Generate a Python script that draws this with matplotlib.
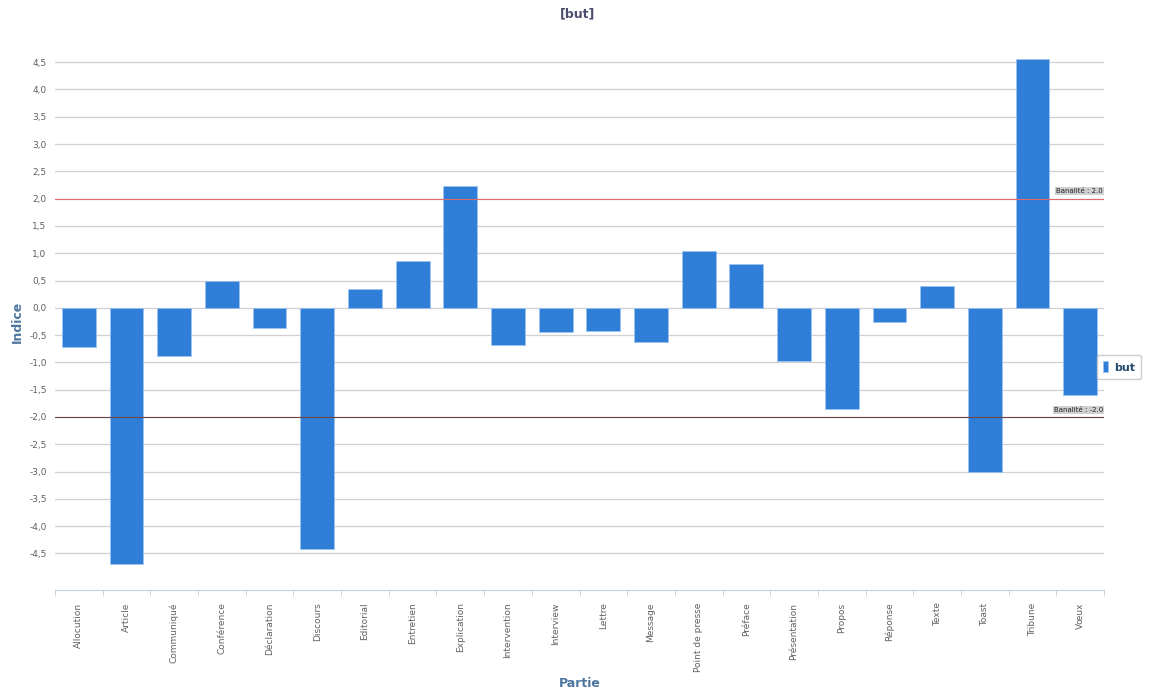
import matplotlib
matplotlib.use("Agg")
import matplotlib.pyplot as plt
from matplotlib.ticker import FixedLocator
import numpy as np

categories = ["Allocution", "Article", "Communiqué", "Conférence", "Déclaration",
              "Discours", "Editorial", "Entretien", "Explication", "Intervention",
              "Interview", "Lettre", "Message", "Point de presse", "Préface",
              "Présentation", "Propos", "Réponse", "Texte", "Toast", "Tribune", "Vœux"]
values = [-0.71, -4.69, -0.88, 0.49, -0.37, -4.41, 0.35, 0.86, 2.23, -0.68,
          -0.44, -0.42, -0.62, 1.04, 0.81, -0.97, -1.85, -0.26, 0.40, -3.00,
          4.56, -1.59]
yticks = [-4.5, -4.0, -3.5, -3.0, -2.5, -2.0, -1.5, -1.0, -0.5, 0.0,
          0.5, 1.0, 1.5, 2.0, 2.5, 3.0, 3.5, 4.0, 4.5]
thresholds = [2.0, -2.0]
threshold_labels = ["Banalité : 2.0", "Banalité : -2.0"]

plt.rcParams['font.family'] = ['DejaVu Sans']
fig = plt.figure(figsize=(11.55, 6.94), dpi=100)
ax = fig.add_axes([55/1155, 1 - 590/694, (1104-55)/1155, (590-54)/694])

x = np.arange(len(categories))
bars = ax.bar(x, values, width=0.71, color="#2F7ED8", edgecolor="#9ec3f0",
              linewidth=0.5, zorder=3, label="but")

ax.set_xlim(-0.5, len(categories) - 0.5)
ax.set_ylim(-5.17, 4.65)

ax.set_yticks(yticks)
ax.set_yticklabels([f"{v:.1f}".replace(".", ",") for v in yticks], fontsize=6.5, color="#606060")
ax.set_axisbelow(True)
ax.yaxis.grid(True, color="#d0d0d0", linewidth=0.9)
ax.tick_params(axis="y", length=0, pad=6)

ax.set_xticks(x)
ax.set_xticklabels(categories, rotation=90, fontsize=6.5, color="#606060", va="top")
ax.xaxis.set_minor_locator(FixedLocator(np.arange(-0.5, len(categories), 1.0)))
ax.tick_params(axis="x", which="major", length=0, pad=9)
ax.tick_params(axis="x", which="minor", length=4, color="#C0D0E0")

for s in ["top", "right", "left"]:
    ax.spines[s].set_visible(False)
ax.spines["bottom"].set_color("#C0D0E0")

thr_colors = ["#e06a6a", "#6e4646"]
for t, lab, c in zip(thresholds, threshold_labels, thr_colors):
    ax.axhline(t, color=c, linewidth=0.8, zorder=4)
    ax.text(len(categories) - 0.52, t + 0.08, lab, fontsize=5, ha="right", va="bottom",
            color="#222222", zorder=5,
            bbox=dict(boxstyle="square,pad=0.15", facecolor="#d0d0d0", edgecolor="none"))

ax.set_ylabel("Indice", fontsize=9, fontweight="bold", color="#4d759e", labelpad=4)
ax.set_xlabel("Partie", fontsize=9, fontweight="bold", color="#4d759e", labelpad=4)
fig.text(0.5, 1 - 14/694, "[but]", ha="center", va="center", fontsize=9,
         fontweight="bold", color="#4d4d6f")

leg = fig.legend(handles=[bars], labels=["but"], loc="center left",
                 bbox_to_anchor=(1091/1155, 1 - 367/694), fontsize=8,
                 handlelength=0.45, handleheight=1.1, handletextpad=0.5, borderpad=0.6,
                 frameon=True, fancybox=True)
leg.get_frame().set_edgecolor("#c0c0c0")
for t in leg.get_texts():
    t.set_color("#274b6d")
    t.set_fontweight("bold")

fig.savefig("out.png", dpi=100)
